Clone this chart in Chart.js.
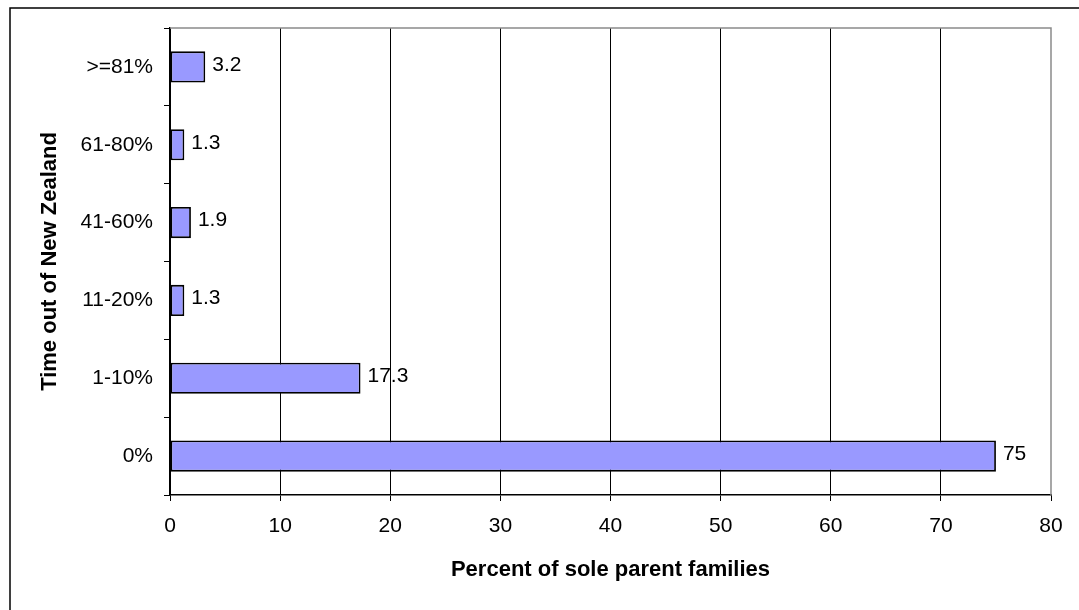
<!DOCTYPE html>
<html>
<head>
<meta charset="utf-8">
<script src="https://cdn.jsdelivr.net/npm/chart.js@4.4.1/dist/chart.umd.min.js"></script>
<style>
  html, body { margin: 0; padding: 0; background: #fff; }
  #c { display: block; }
</style>
</head>
<body>
<canvas id="c" width="1079" height="610"></canvas>
<script>
// Share of time spent outside New Zealand (bottom to top)
const categories = ['0%', '1-10%', '11-20%', '41-60%', '61-80%', '>=81%'];
const percentOfFamilies = [75, 17.3, 1.3, 1.9, 1.3, 3.2];
const xTicks = [0, 10, 20, 30, 40, 50, 60, 70, 80];

const FONT = "'Liberation Sans', Arial, Helvetica, sans-serif";

// Outer frame line plus the grey plot border on top/right
const framePlugin = {
  id: 'frame',
  beforeDatasetsDraw(chart) {
    const { ctx, chartArea: a } = chart;
    ctx.save();
    ctx.strokeStyle = '#8a8a8a';
    ctx.lineWidth = 1.5;
    ctx.beginPath();
    ctx.moveTo(a.left, a.top);
    ctx.lineTo(a.right, a.top);
    ctx.lineTo(a.right, a.bottom);
    ctx.stroke();
    ctx.restore();
  },
  afterDraw(chart) {
    const { ctx, width, height } = chart;
    ctx.save();
    ctx.strokeStyle = '#000';
    ctx.lineWidth = 1.5;
    ctx.beginPath();
    ctx.moveTo(10, height + 2);
    ctx.lineTo(10, 8);
    ctx.lineTo(width + 2, 8);
    ctx.stroke();
    ctx.restore();
  }
};

// Value written just past the end of each bar
const valueLabels = {
  id: 'valueLabels',
  afterDatasetsDraw(chart) {
    const { ctx } = chart;
    const meta = chart.getDatasetMeta(0);
    const data = chart.data.datasets[0].data;
    ctx.save();
    ctx.font = '21px ' + FONT;
    ctx.fillStyle = '#000';
    ctx.textAlign = 'left';
    ctx.textBaseline = 'middle';
    meta.data.forEach((bar, i) => {
      ctx.fillText(String(data[i]), bar.x + 7, bar.y - 2);
    });
    ctx.restore();
  }
};

new Chart(document.getElementById('c'), {
  type: 'bar',
  data: {
    labels: categories,
    datasets: [{
      data: percentOfFamilies,
      backgroundColor: '#9999FF',
      borderColor: '#000',
      borderWidth: 1.8,
      borderSkipped: false,
      categoryPercentage: 1,
      barPercentage: 0.4
    }]
  },
  options: {
    indexAxis: 'y',
    responsive: false,
    animation: false,
    devicePixelRatio: 1,
    layout: { padding: { left: 0, top: 28, right: 28, bottom: 0 } },
    plugins: {
      legend: { display: false },
      tooltip: { enabled: false }
    },
    scales: {
      x: {
        type: 'linear',
        min: 0,
        max: 80,
        afterBuildTicks(scale) { scale.ticks = xTicks.map(v => ({ value: v })); },
        afterFit(scale) { scale.height = 115; },
        grid: {
          color: ctx => (ctx.tick && ctx.tick.value === 80) ? 'rgba(0,0,0,0)' : '#000',
          tickColor: '#000',
          lineWidth: 1,
          tickLength: 6,
          drawTicks: true
        },
        border: { display: true, color: '#000', width: 1.5 },
        ticks: {
          color: '#000',
          padding: 13,
          font: { family: FONT, size: 21 }
        },
        title: {
          display: true,
          text: 'Percent of sole parent families',
          color: '#000',
          font: { family: FONT, size: 22, weight: 'bold' },
          padding: { top: 0, bottom: 27 }
        }
      },
      y: {
        reverse: true,
        afterFit(scale) { scale.width = 170; },
        grid: {
          offset: true,
          drawOnChartArea: false,
          drawTicks: true,
          tickLength: 6,
          color: '#000',
          lineWidth: 1
        },
        border: { display: true, color: '#000', width: 1.5 },
        ticks: {
          color: '#000',
          padding: 11,
          font: { family: FONT, size: 21 }
        },
        title: {
          display: true,
          text: 'Time out of New Zealand',
          color: '#000',
          font: { family: FONT, size: 22, weight: 'bold' },
          padding: { top: 37, bottom: 0 }
        }
      }
    }
  },
  plugins: [framePlugin, valueLabels]
});
</script>
</body>
</html>
